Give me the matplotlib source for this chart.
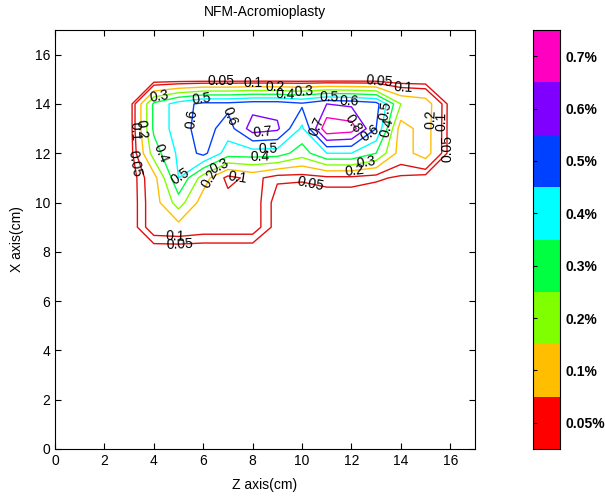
import numpy as np
import matplotlib
matplotlib.use("Agg")
import matplotlib.pyplot as plt
from matplotlib.colors import ListedColormap

# grid (cm), 1 cm spacing
z_cm = np.arange(0, 18)
x_cm = np.arange(0, 18)

# strain (%) per grid row, columns z = 0..17
row_y9 = [0, 0, 0, 0, 0.15, 0.16, 0.14, 0.14, 0.14, 0.02, 0, 0, 0, 0, 0, 0, 0, 0]
row_y10 = [0, 0, 0, 0, 0.15, 0.35, 0.15, 0.14, 0.14, 0.02, 0, 0, 0, 0, 0, 0, 0, 0]
row_y11 = [0, 0, 0, 0, 0.16, 0.5, 0.25, 0.07, 0.13, 0.06, 0.06, 0.08, 0.08, 0.06, 0.04, 0.02, 0, 0]
row_y12 = [0, 0, 0, 0, 0.35, 0.52, 0.63, 0.45, 0.45, 0.45, 0.35, 0.5, 0.5, 0.4, 0.15, 0.25, 0.02, 0]
row_y13 = [0, 0, 0, 0, 0.42, 0.55, 0.65, 0.55, 0.75, 0.72, 0.48, 0.88, 0.85, 0.6, 0.15, 0.25, 0.02, 0]
row_y14 = [0, 0, 0, 0, 0.42, 0.55, 0.63, 0.63, 0.66, 0.66, 0.62, 0.7, 0.68, 0.64, 0.3, 0.26, 0.02, 0]

levels = [0.05, 0.1, 0.2, 0.3, 0.4, 0.5, 0.6, 0.7, 0.8]
line_colors = ["#e01010", "#e01010", "#ffbf00", "#80ff00", "#00ff40",
               "#00ffff", "#0040ff", "#8000ff", "#ff00c0"]

cbar_labels = ["0.05%", "0.1%", "0.2%", "0.3%", "0.4%", "0.5%", "0.6%", "0.7%"]
cbar_colors = ["#ff0000", "#ffbf00", "#80ff00", "#00ff40",
               "#00ffff", "#0040ff", "#8000ff", "#ff00c0"]

# where the contour labels sit (data coords)
label_spots = {
    0.05: [(6.7, 15.0), (13.1, 14.8), (3.3, 11.6), (15.9, 12.2), (10.4, 11.1), (5.06, 8.3)],
    0.1: [(8.0, 14.65), (14.1, 14.5), (3.6, 12.9), (15.7, 13.3), (7.37, 11.0), (4.86, 8.74)],
    0.2: [(8.9, 14.5), (15.2, 13.4), (6.07, 11.1), (12.1, 11.6), (3.9, 13.0)],
    0.3: [(10.1, 14.4), (4.3, 13.8), (6.56, 11.7), (12.5, 12.1)],
    0.4: [(9.3, 14.2), (5.0, 12.3), (13.55, 13.0), (8.3, 12.2)],
    0.5: [(5.95, 14.0), (5.06, 11.1), (13.4, 13.7), (8.6, 12.4), (11.1, 14.3)],
    0.6: [(5.6, 13.4), (7.37, 13.6), (11.9, 14.1), (12.75, 12.8)],
    0.7: [(8.4, 12.8), (10.5, 13.1)],
    0.8: [(11.9, 13.1)],
}

Z = np.zeros((len(x_cm), len(z_cm)))
Z[9] = row_y9
Z[10] = row_y10
Z[11] = row_y11
Z[12] = row_y12
Z[13] = row_y13
Z[14] = row_y14


def nearest_on_level(segs, spot):
    # project spot onto every segment of the level's lines
    best = None
    p = np.asarray(spot, float)
    for seg in segs:
        for a, b in zip(seg[:-1], seg[1:]):
            d = b - a
            L = d @ d
            t = 0.0 if L == 0 else np.clip((p - a) @ d / L, 0, 1)
            q = a + t * d
            dist = ((p - q) ** 2).sum()
            if best is None or dist < best[0]:
                best = (dist, q, d)
    return best[1], best[2]


plt.rcParams["font.family"] = ["Liberation Sans", "DejaVu Sans"]
plt.rcParams["font.size"] = 9

fig = plt.figure(figsize=(6.05, 4.97), dpi=100)
ax = fig.add_axes([0.091, 0.0966, 0.694, 0.843])

cs = ax.contour(z_cm, x_cm, Z, levels=levels, colors=line_colors, linewidths=1)
for lev, spots in label_spots.items():
    segs = cs.allsegs[levels.index(lev)]
    for spot in spots:
        q, d = nearest_on_level(segs, spot)
        ang = np.degrees(np.arctan2(d[1], d[0]))
        if ang > 90:
            ang -= 180
        elif ang < -90:
            ang += 180
        ax.text(q[0], q[1], "%g" % lev, rotation=ang, rotation_mode="anchor",
                ha="center", va="center", fontsize=10, color="black")

ax.set_xlim(0, 17)
ax.set_ylim(0, 17)
ax.set_xticks(range(0, 17, 2))
ax.set_yticks(range(0, 17, 2))
ax.tick_params(direction="in", top=True, right=True, length=4, labelsize=10)
ax.set_xlabel("Z axis(cm)", fontsize=10, labelpad=7)
ax.set_ylabel("X axis(cm)", fontsize=10, labelpad=8)
ax.set_title("NFM-Acromioplasty", fontsize=10, pad=10)

# discrete colorbar
cax = fig.add_axes([0.881, 0.0966, 0.045, 0.843])
cmap = ListedColormap(cbar_colors)
cax.imshow(np.arange(len(cbar_colors)).reshape(-1, 1), cmap=cmap,
           origin="lower", aspect="auto",
           extent=[0, 1, 0, len(cbar_colors)])
cax.set_xticks([])
cax.set_yticks(np.arange(len(cbar_labels)) + 0.5)
cax.set_yticklabels(cbar_labels, fontweight="bold", fontsize=10)
cax.yaxis.tick_right()
cax.tick_params(axis="y", direction="in", left=True, right=False, length=3)

fig.savefig("out.png", dpi=100)
